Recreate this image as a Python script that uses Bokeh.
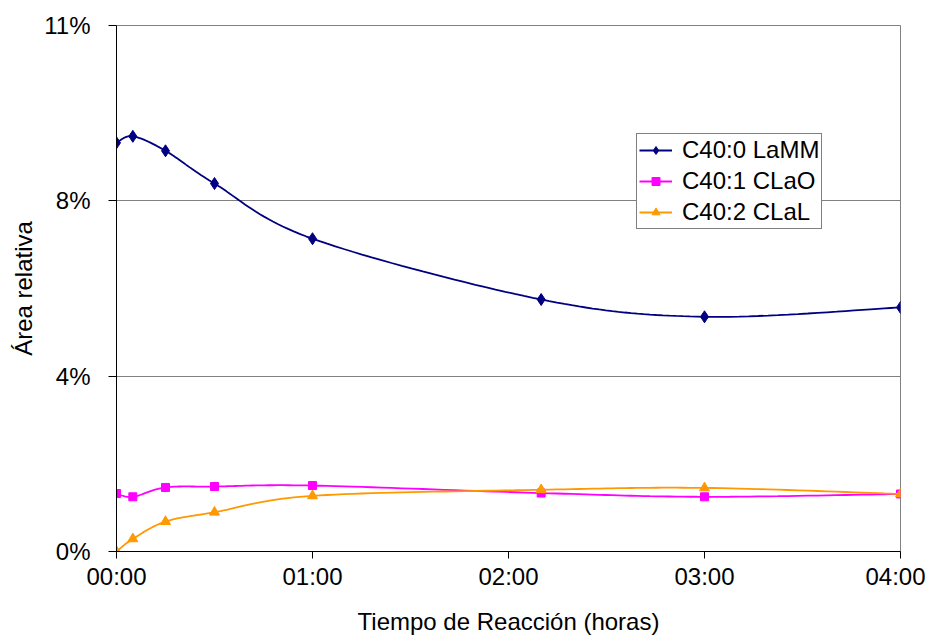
import numpy as np
from bokeh.plotting import figure
from bokeh.models import FixedTicker, Legend, LegendItem, Range1d
from bokeh.embed import file_html
from bokeh.resources import INLINE

# ---- data ----
minutes = [0, 5, 15, 30, 60, 130, 180, 240]
lamm = [8.74, 8.88, 8.57, 7.87, 6.69, 5.39, 5.02, 5.22]   # C40:0 LaMM (%)
clao = [1.24, 1.17, 1.37, 1.39, 1.41, 1.25, 1.17, 1.23]   # C40:1 CLaO (%)
clal = [0.00, 0.27, 0.64, 0.84, 1.19, 1.32, 1.36, 1.23]   # C40:2 CLaL (%)

series_names = ["C40:0 LaMM", "C40:1 CLaO", "C40:2 CLaL"]
x_ticks = [0, 1, 2, 3, 4]
x_tick_labels = ["00:00", "01:00", "02:00", "03:00", "04:00"]
y_ticks = [0, 3.75, 7.5, 11.25]
y_tick_labels = ["0%", "4%", "8%", "11%"]

hours = [m / 60 for m in minutes]

FONT = "Liberation Sans"


def smooth(xs, ys, n=24):
    pts = np.column_stack([xs, ys]).astype(float)
    k = len(pts)
    ox, oy = [], []
    for i in range(k - 1):
        p0 = pts[i - 1] if i > 0 else pts[i]
        p1 = pts[i]
        p2 = pts[i + 1]
        p3 = pts[i + 2] if i + 2 < k else pts[i + 1]
        c1 = p1 + (p2 - p0) / 6.0
        c2 = p2 - (p3 - p1) / 6.0
        t = np.linspace(0, 1, n, endpoint=(i == k - 2))[:, None]
        b = ((1 - t) ** 3) * p1 + 3 * ((1 - t) ** 2) * t * c1 + 3 * (1 - t) * t ** 2 * c2 + t ** 3 * p2
        ox.extend(b[:, 0]); oy.extend(b[:, 1])
    return ox, oy


p = figure(width=925, height=637, output_backend="svg", toolbar_location=None,
           x_range=Range1d(0, 4), y_range=Range1d(0, 11.25),
           min_border_left=116, min_border_right=25, min_border_top=25, min_border_bottom=86)
p.background_fill_color = "white"
p.border_fill_color = "white"
p.outline_line_color = "#808080"
p.outline_line_width = 1

styles = [
    (lamm, "#000080", "diamond", 12),
    (clao, "#FF00FF", "square", 8),
    (clal, "#FF9900", "triangle", 10),
]
items = []
for (vals, col, mk, sz), name in zip(styles, series_names):
    sx, sy = smooth(hours, vals)
    r1 = p.line(sx, sy, line_color=col, line_width=1.8)
    r2 = p.scatter(hours, vals, marker=mk, size=sz, fill_color=col, line_color=col)
    items.append(LegendItem(label=name, renderers=[r1, r2]))

# axes
for ax in (p.xaxis[0], p.yaxis[0]):
    ax.axis_line_color = "black"
    ax.axis_line_width = 1
    ax.major_tick_line_color = "black"
    ax.major_tick_in = 0
    ax.minor_tick_line_color = None
    ax.major_label_text_font = FONT
    ax.major_label_text_font_size = "24px"
    ax.major_label_text_color = "black"
    ax.axis_label_text_font = FONT
    ax.axis_label_text_font_size = "24px"
    ax.axis_label_text_font_style = "normal"
    ax.axis_label_text_color = "black"

p.xaxis.ticker = FixedTicker(ticks=x_ticks)
p.xaxis.major_label_overrides = {t: l for t, l in zip(x_ticks, x_tick_labels)}
p.xaxis.major_tick_out = 7
p.xaxis.major_label_standoff = 4
p.xaxis.axis_label = "Tiempo de Reacción (horas)"
p.xaxis.axis_label_standoff = 15

p.yaxis.ticker = FixedTicker(ticks=y_ticks)
p.yaxis.major_label_overrides = {t: l for t, l in zip(y_ticks, y_tick_labels)}
p.yaxis.major_tick_out = 8
p.yaxis.major_label_standoff = 18
p.yaxis.axis_label = "Área relativa"
p.yaxis.axis_label_standoff = 4

p.xgrid.grid_line_color = None
p.ygrid.grid_line_color = "#808080"
p.ygrid.grid_line_width = 1

legend = Legend(items=items, location=(520, 322))
legend.label_text_font = FONT
legend.label_text_font_size = "24px"
legend.label_text_color = "black"
legend.glyph_width = 33
legend.glyph_height = 20
legend.label_standoff = 10
legend.padding = 2
legend.spacing = 3
legend.margin = 0
legend.border_line_color = "black"
legend.border_line_width = 1
legend.background_fill_color = "white"
legend.background_fill_alpha = 1
p.add_layout(legend, "center")

open("out.html", "w").write(file_html(p, INLINE))
